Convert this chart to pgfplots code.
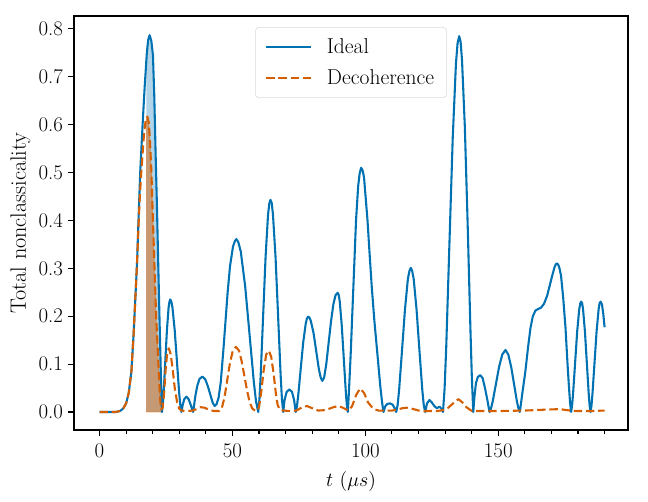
\documentclass[border=0pt]{standalone}
\usepackage{fontspec}
\usepackage{pgfplots}
\pgfplotsset{compat=1.18}
\definecolor{mblue}{HTML}{0072B2}
\definecolor{morange}{HTML}{D55E00}
\newcommand{\tickfont}{\fontsize{15}{18}\selectfont}
\newcommand{\labfont}{\fontsize{16}{19}\selectfont}
\newcommand{\legfont}{\fontsize{15.5}{18}\selectfont}
\begin{document}
\begin{tikzpicture}
\path[use as bounding box] (-53.28pt,-51.84pt) rectangle (413.28pt,309.6pt);
\begin{axis}[
  scale only axis, width=398.88pt, height=298.08pt,
  xmin=-9.6, xmax=198.8, ymin=-0.0376, ymax=0.827,
  xtick={0,50,100,150}, minor xtick={10,20,30,40,60,70,80,90,110,120,130,140,160,170,180,190},
  ytick={0,0.1,0.2,0.3,0.4,0.5,0.6,0.7,0.8},
  /pgf/number format/assume math mode=true,
  yticklabel style={/pgf/number format/fixed,/pgf/number format/fixed zerofill,/pgf/number format/precision=1},
  xticklabel style={yshift=-2pt},
  scaled y ticks=false,
  tick align=outside, xtick pos=bottom, ytick pos=left,
  major tick length=4.5pt, minor tick length=2.8pt,
  every tick/.style={black, line width=0.8pt},
  axis line style={line width=0.8pt},
  tick label style={font=\tickfont},
  xlabel={$t$ ($\mu s$)}, ylabel={Total nonclassicality},
  xlabel style={font=\Large, yshift=-3pt},
  ylabel style={font=\labfont, yshift=-1pt},
  legend style={at={(0.5,0.973)}, anchor=north, draw=black!15, rounded corners=2.5pt, font=\legfont, fill=white, fill opacity=0.8, text opacity=1, inner xsep=7pt, inner ysep=6pt, row sep=6pt,
    /tikz/every odd column/.append style={column sep=9pt}},
  legend cell align=left,
  legend image code/.code={\draw[#1] (0pt,0pt) -- (32pt,0pt);},
  clip=false,
]
\addplot[draw=none, fill=mblue, fill opacity=0.3, forget plot] coordinates {
(17.6,0)(17.6,0.735)(17.8,0.75)(18.3,0.775)(18.85,0.787)(19.5,0.775)(20.1,0.745)(20.6,0.66)(21.1,0.54)(21.6,0.43)(22,0.33)(22.5,0.21)(22.9,0.12)(23.2,0.05)(23.5,0)(23.6,0)
} \closedcycle;
\addplot[draw=morange, draw opacity=0.5, fill=morange, fill opacity=0.5, forget plot] coordinates {
(17.6,0)(17.6,0.612)(18,0.617)(18.5,0.605)(18.9,0.575)(19.5,0.505)(20.1,0.4)(20.7,0.3)(21.3,0.2)(22,0.12)(22.5,0.06)(22.9,0.02)(23.3,0.005)(23.6,0.008)(23.6,0)
} \closedcycle;
\addplot[mblue, line width=1.5pt, line join=round] coordinates {
(0,0)(6,0)(7,0.001)(8,0.003)(9,0.008)(10,0.018)(11,0.04)(12,0.085)(12.8,0.16)(13.5,0.24)(14.1,0.31)(14.6,0.39)(15.3,0.5)(16.3,0.61)(17,0.68)(17.8,0.75)(18.3,0.777)(18.85,0.787)(19.5,0.775)(20.1,0.745)(20.6,0.66)(21.1,0.54)(21.6,0.43)(22,0.33)(22.5,0.21)(22.9,0.12)(23.2,0.05)(23.5,0)
(23.81,0.015)(24.12,0.04)(24.74,0.106)(25.36,0.171)(25.98,0.218)(26.3,0.23)(26.6,0.235)(27,0.231)(27.44,0.218)(28.28,0.171)(29.12,0.106)(29.96,0.04)(30.38,0.015)(30.8,0)
(31.3,0.015)(31.9,0.027)(32.7,0.032)(33.5,0.027)(34.3,0.015)(35.2,0)
(35.6,0.015)(36.1,0.035)(36.8,0.055)(37.6,0.069)(38.7,0.074)(39.8,0.068)(40.8,0.053)(41.8,0.034)(42.6,0.019)(43.3,0.0125)(44,0.016)(44.8,0.03)(45.6,0.062)(46.6,0.13)(47.4,0.19)(48.2,0.25)(49.1,0.305)(50.2,0.345)(50.9,0.357)(51.5,0.361)(52.2,0.355)(53.14,0.335)(54.78,0.263)(56.42,0.163)(58.06,0.062)(58.88,0.022)(59.7,0)
(60.16,0.027)(60.62,0.076)(61.54,0.2)(62.46,0.323)(63.38,0.411)(63.85,0.435)(64.3,0.443)(64.8,0.436)(65.26,0.411)(66.22,0.323)(67.18,0.2)(68.14,0.076)(68.62,0.027)(69.1,0)
(69.6,0.025)(70.4,0.042)(71.4,0.047)(72.4,0.042)(73.2,0.025)(73.8,0)
(74.27,0.012)(74.74,0.034)(75.68,0.09)(76.62,0.145)(77.56,0.184)(78,0.195)(78.5,0.199)(79,0.197)(79.5,0.19)(80.5,0.165)(81.5,0.128)(82.5,0.09)(83.2,0.072)(83.8,0.065)(84.5,0.072)(85.3,0.1)(86.2,0.145)(87.1,0.19)(88,0.226)(88.8,0.244)(89.6,0.249)(90,0.244)(90.36,0.231)(91.12,0.181)(91.88,0.112)(92.64,0.043)(93.02,0.015)(93.4,0)
(93.8,0.04)(94.5,0.123)(95.5,0.262)(96.5,0.401)(97.3,0.472)(97.85,0.498)(98.4,0.51)(98.95,0.505)(99.5,0.49)(100.8,0.401)(101.6,0.33)(102.4,0.262)(103.4,0.19)(104.5,0.123)(105.6,0.055)(106.3,0.02)(106.8,0)
(107.5,0.012)(108.3,0.017)(109.3,0.018)(110.3,0.015)(111,0.008)(111.6,0)
(112.15,0.015)(112.7,0.046)(113.8,0.129)(114.9,0.214)(116,0.278)(116.6,0.295)(117.1,0.301)(117.6,0.295)(118.18,0.278)(119.26,0.214)(120.34,0.129)(121.42,0.046)(121.96,0.015)(122.5,0)
(123.2,0.018)(124.1,0.025)(125,0.02)(126,0.012)(126.9,0.008)(127.9,0.011)(128.6,0.007)(129.2,0)
(129.81,0.049)(130.42,0.135)(131.64,0.354)(132.86,0.571)(134.08,0.728)(134.69,0.77)(135.3,0.785)(135.83,0.773)(136.36,0.735)(137.42,0.596)(138.48,0.393)(139.54,0.17)(140.07,0.07)(140.6,0)
(141,0.03)(141.6,0.06)(142.3,0.073)(143.2,0.077)(144.1,0.071)(145,0.05)(145.9,0.025)(146.7,0)
(147.3,0.008)(147.9,0.022)(149.1,0.058)(150.3,0.094)(151.5,0.12)(152.7,0.1295)(153.78,0.12)(154.86,0.094)(155.94,0.058)(157.02,0.022)(157.56,0.008)(158.1,0)
(158.6,0.02)(159.2,0.045)(160.2,0.085)(161.2,0.135)(162.1,0.175)(163,0.2)(164,0.212)(165,0.215)(166.1,0.218)(167.2,0.226)(168.4,0.243)(169.4,0.265)(170.3,0.285)(171.2,0.303)(171.7,0.309)(172.1,0.31)(172.5,0.308)(172.9,0.303)(173.6,0.285)(174.4,0.24)(175.3,0.175)(176,0.105)(176.5,0.06)(177,0.02)(177.4,0)
(177.78,0.014)(178.16,0.04)(178.92,0.104)(179.68,0.168)(180.44,0.214)(180.85,0.227)(181.2,0.2305)(181.55,0.227)(181.9,0.214)(182.6,0.168)(183.3,0.104)(184,0.04)(184.35,0.014)(184.7,0)
(185.08,0.014)(185.46,0.04)(186.22,0.104)(186.98,0.168)(187.74,0.214)(188.1,0.227)(188.5,0.2305)(189,0.225)(189.5,0.205)(190,0.177)
};
\addlegendentry{Ideal}
\addplot[morange, line width=1.5pt, line join=round, dash pattern=on 6pt off 2.8pt] coordinates {
(0,0)(6,0)(7,0.001)(8,0.003)(9,0.008)(10,0.018)(11,0.04)(12,0.085)(12.8,0.16)(13.5,0.24)(14.1,0.31)(14.6,0.38)(15.1,0.443)(15.7,0.5)(16.3,0.547)(16.8,0.585)(17.4,0.61)(18,0.617)(18.5,0.605)(18.9,0.575)(19.5,0.505)(20.1,0.4)(20.7,0.3)(21.3,0.2)(22,0.12)(22.5,0.06)(22.9,0.02)(23.3,0.005)(23.8,0.01)(24.3,0.04)(24.9,0.09)(25.5,0.125)(26.1,0.133)(26.8,0.12)(27.5,0.09)(28.3,0.05)(29.2,0.02)(30,0.007)(30.8,0.003)(33,0.002)(35,0.003)(36.5,0.006)(38,0.01)(39.5,0.009)(41,0.005)(43,0.002)(45,0.002)(46,0.008)(47,0.03)(48,0.065)(49,0.1)(50,0.125)(51.3,0.136)(52.5,0.128)(53.5,0.105)(54.5,0.075)(55.5,0.045)(56.5,0.02)(57.5,0.007)(58.5,0.003)(59.3,0.003)(60,0.01)(60.8,0.04)(61.7,0.085)(62.7,0.12)(63.7,0.128)(64.6,0.115)(65.5,0.08)(66.3,0.04)(67,0.015)(67.8,0.005)(69,0.003)(72,0.002)(74,0.003)(76,0.009)(78,0.0125)(80,0.008)(82.3,0.003)(85,0.004)(88,0.01)(89.8,0.0125)(91.5,0.009)(93.6,0.003)(95,0.012)(96.5,0.035)(98,0.049)(99.5,0.04)(101,0.02)(102.5,0.01)(103.7,0.005)(105,0.003)(110,0.003)(112,0.005)(114,0.008)(115.6,0.009)(117.5,0.007)(120,0.003)(122,0.002)(127,0.002)(129.5,0.004)(131,0.008)(133,0.018)(135,0.027)(136.5,0.02)(138,0.01)(140.1,0.002)(150,0.002)(160,0.003)(168,0.005)(173,0.006)(177,0.003)(180,0.002)(185,0.002)(190,0.003)
};
\addlegendentry{Decoherence}
\end{axis}
\end{tikzpicture}
\end{document}
